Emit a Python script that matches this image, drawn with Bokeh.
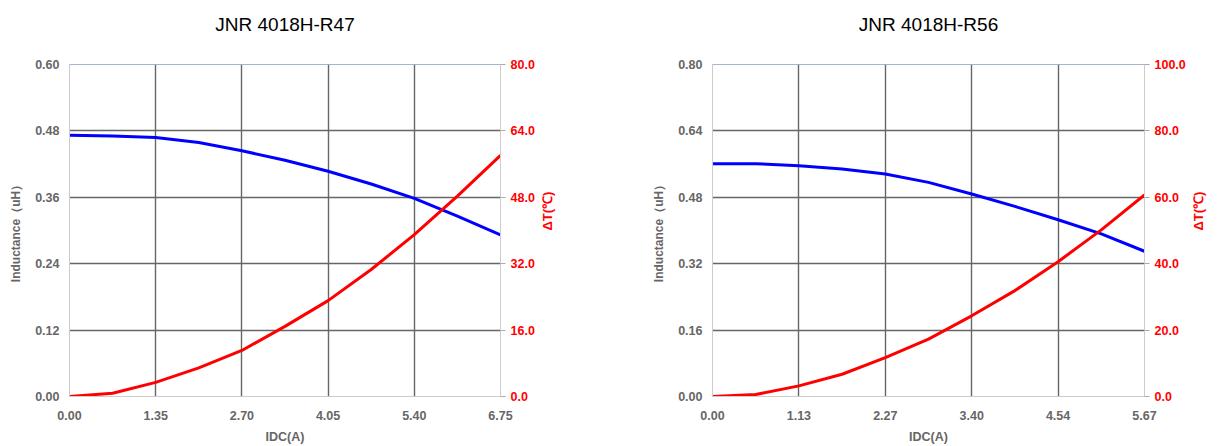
import math
from bokeh.plotting import figure
from bokeh.models import Range1d, LinearAxis, FixedTicker, Span, Title
from bokeh.layouts import row
from bokeh.embed import file_html
from bokeh.resources import INLINE

# ---- data: JNR 4018H-R47 ----
r47_title = "JNR 4018H-R47"
r47_idc = [0.0, 0.675, 1.35, 2.025, 2.70, 3.375, 4.05, 4.725, 5.40, 6.075, 6.75]
r47_ind = [0.472, 0.471, 0.468, 0.459, 0.444, 0.427, 0.407, 0.384, 0.358, 0.326, 0.292]
r47_dt = [0.0, 0.8, 3.4, 6.9, 11.1, 16.9, 23.1, 30.6, 39.0, 48.3, 58.1]
r47_xticks = [0.0, 1.35, 2.70, 4.05, 5.40, 6.75]
r47_yticks = [0.0, 0.12, 0.24, 0.36, 0.48, 0.60]
r47_dtticks = [0.0, 16.0, 32.0, 48.0, 64.0, 80.0]

# ---- data: JNR 4018H-R56 ----
r56_title = "JNR 4018H-R56"
r56_idc = [0.0, 0.567, 1.134, 1.701, 2.268, 2.835, 3.402, 3.969, 4.536, 5.103, 5.67]
r56_ind = [0.561, 0.561, 0.556, 0.548, 0.536, 0.516, 0.488, 0.458, 0.426, 0.392, 0.350]
r56_dt = [0.0, 0.6, 3.2, 6.7, 11.7, 17.3, 24.3, 31.9, 40.6, 50.2, 60.7]
r56_xticks = [0.0, 1.134, 2.268, 3.402, 4.536, 5.67]
r56_yticks = [0.0, 0.16, 0.32, 0.48, 0.64, 0.80]
r56_dtticks = [0.0, 20.0, 40.0, 60.0, 80.0, 100.0]

x_label = "IDC(A)"
y_label = "Inductance（uH）"
dt_label = "ΔT(℃)"

GRAY = "#666666"
RED = "#ff0000"
TICK_FONT = "'Liberation Sans Narrow', 'Liberation Sans', Arial, sans-serif"
SANS = "'Liberation Sans', Arial, sans-serif"


def make_chart(title, xs, ind, dt, xticks, yticks, dtticks, width, bl, br):
    p = figure(width=width, height=446, output_backend="svg", toolbar_location=None,
               x_range=Range1d(xticks[0], xticks[-1]),
               y_range=Range1d(yticks[0], yticks[-1]),
               min_border_left=bl, min_border_right=br,
               min_border_top=64, min_border_bottom=49,
               title=None)
    # spacer between title and frame, then the title itself
    p.add_layout(Title(text=" ", text_font_size="25px", standoff=0), "above")
    p.add_layout(Title(text=title, align="center", text_font=SANS,
                       text_font_size="19px", text_font_style="normal",
                       text_color="#000000", standoff=0), "above")
    p.outline_line_color = "#cccccc"
    p.outline_line_width = 1
    p.background_fill_color = "white"
    p.border_fill_color = "white"

    p.extra_y_ranges = {"dt": Range1d(dtticks[0], dtticks[-1])}

    # grids (interior only)
    p.xgrid.ticker = FixedTicker(ticks=xticks[1:-1])
    p.ygrid.ticker = FixedTicker(ticks=yticks[1:-1])
    for g in (p.xgrid[0], p.ygrid[0]):
        g.grid_line_color = GRAY
        g.grid_line_width = 1.4

    # x axis
    xa = p.xaxis[0]
    xa.ticker = FixedTicker(ticks=xticks)
    xa.major_label_overrides = {t: f"{t:.2f}" for t in xticks}
    xa.axis_line_color = "#cccccc"
    xa.major_tick_line_color = None
    xa.minor_tick_line_color = None
    xa.major_label_standoff = 8
    xa.major_label_text_font = TICK_FONT
    xa.major_label_text_font_size = "12.5px"
    xa.major_label_text_font_style = "bold"
    xa.major_label_text_color = GRAY
    xa.axis_label = x_label
    xa.axis_label_text_font = TICK_FONT
    xa.axis_label_text_font_size = "12.5px"
    xa.axis_label_text_font_style = "bold"
    xa.axis_label_text_color = GRAY
    xa.axis_label_standoff = 7

    # left axis
    ya = p.yaxis[0]
    ya.ticker = FixedTicker(ticks=yticks)
    ya.major_label_overrides = {t: f"{t:.2f}" for t in yticks}
    ya.axis_line_color = "#cccccc"
    ya.major_tick_line_color = None
    ya.minor_tick_line_color = None
    ya.major_label_standoff = 4
    ya.major_label_text_font = TICK_FONT
    ya.major_label_text_font_size = "12.5px"
    ya.major_label_text_font_style = "bold"
    ya.major_label_text_color = GRAY
    ya.axis_label = y_label
    ya.axis_label_text_font = SANS
    ya.axis_label_text_font_size = "12px"
    ya.axis_label_text_font_style = "bold"
    ya.axis_label_text_color = GRAY
    ya.axis_label_standoff = 9

    # right axis
    ra = LinearAxis(y_range_name="dt", ticker=FixedTicker(ticks=dtticks))
    ra.major_label_overrides = {t: f"{t:.1f}" for t in dtticks}
    ra.axis_line_color = "#cccccc"
    ra.major_tick_line_color = "#aaaaaa"
    ra.major_tick_in = 0
    ra.major_tick_out = 5
    ra.minor_tick_line_color = None
    ra.major_label_standoff = 5
    ra.major_label_text_font = TICK_FONT
    ra.major_label_text_font_size = "12.5px"
    ra.major_label_text_font_style = "bold"
    ra.major_label_text_color = RED
    ra.axis_label = dt_label
    ra.axis_label_orientation = math.pi / 2
    ra.axis_label_text_font = SANS
    ra.axis_label_text_font_size = "13px"
    ra.axis_label_text_font_style = "bold"
    ra.axis_label_text_color = RED
    ra.axis_label_standoff = 10
    p.add_layout(ra, "right")

    # top border line (blue-ish)
    p.add_layout(Span(location=yticks[-1], dimension="width",
                      line_color="#7f9fd3", line_width=1.2))

    p.line(xs, ind, line_color="#0000ff", line_width=3)
    p.line(xs, dt, line_color=RED, line_width=3, y_range_name="dt")
    return p


p1 = make_chart(r47_title, r47_idc, r47_ind, r47_dt, r47_xticks, r47_yticks, r47_dtticks,
                width=608, bl=69, br=108)
p2 = make_chart(r56_title, r56_idc, r56_ind, r56_dt, r56_xticks, r56_yticks, r56_dtticks,
                width=609, bl=104, br=73)

layout = row(p1, p2)
open("out.html", "w").write(file_html(layout, INLINE))
